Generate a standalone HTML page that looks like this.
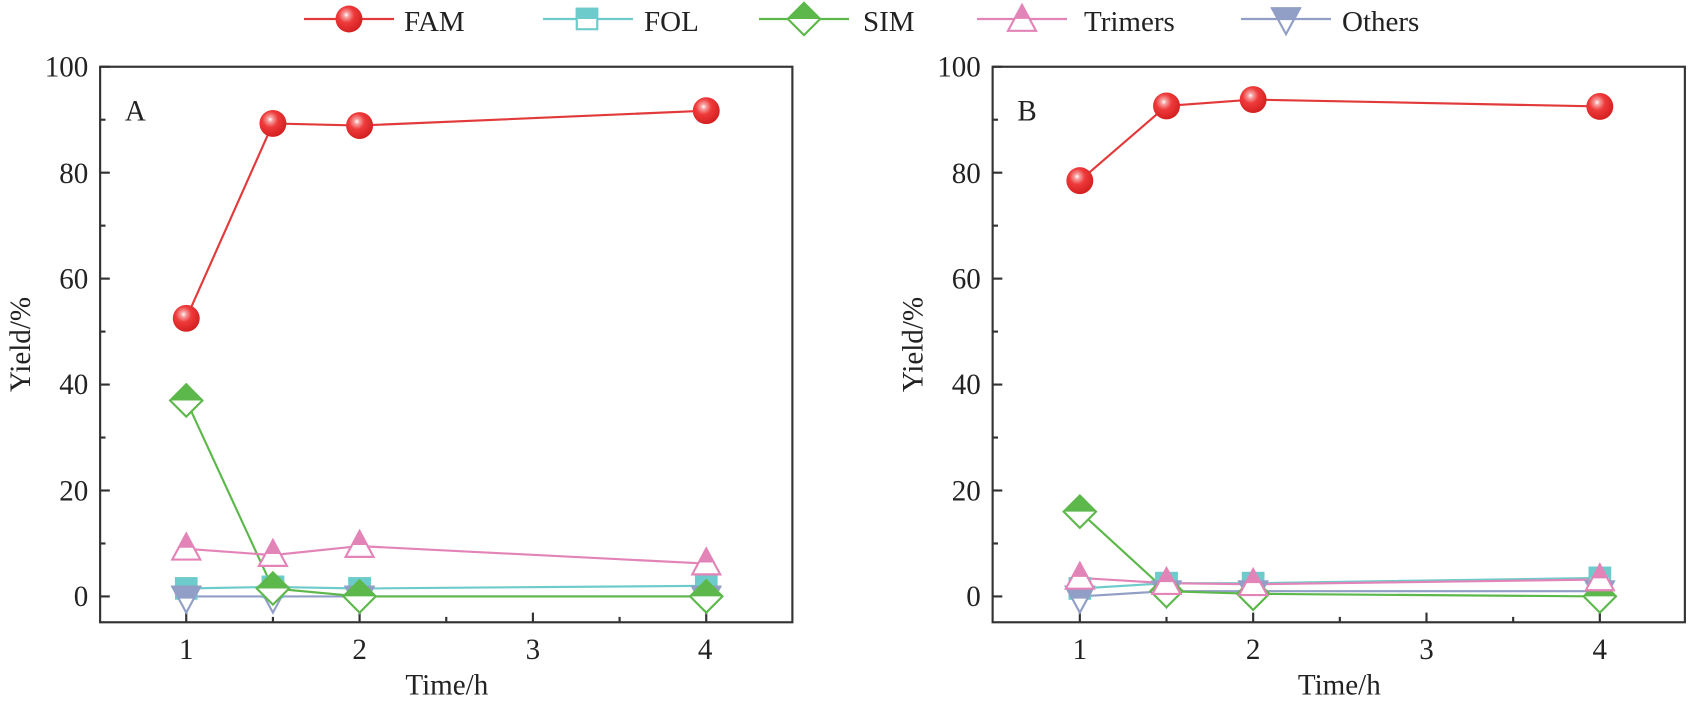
<!DOCTYPE html>
<html><head><meta charset="utf-8"><style>
body{margin:0;background:#fff}
svg{display:block;font-family:"Liberation Serif",serif}
</style></head><body>
<svg id="s" width="1688" height="705" viewBox="0 0 1688 705">
<defs>
<radialGradient id="rg" cx="0.4" cy="0.35" r="0.65">
<stop offset="0" stop-color="#fff"/><stop offset="0.15" stop-color="#f6a0a0"/><stop offset="0.45" stop-color="#ee3a3a"/><stop offset="1" stop-color="#d42020"/>
</radialGradient>
</defs>
<g font-size="29" fill="#222">
<text x="404" y="31">FAM</text><text x="644" y="31">FOL</text><text x="863" y="31">SIM</text><text x="1084" y="31">Trimers</text><text x="1342" y="31">Others</text>
</g>
<g id="leg"></g>
<g transform="scale(1.0766)">
<g font-size="27" fill="#222">
<text x="116" y="112">A</text><text x="945" y="112">B</text>
<g text-anchor="end">
<text x="82" y="71">100</text><text x="82" y="170">80</text><text x="82" y="268">60</text><text x="82" y="366">40</text><text x="82" y="465">20</text><text x="82" y="563">0</text>
<text x="911" y="71">100</text><text x="911" y="170">80</text><text x="911" y="268">60</text><text x="911" y="366">40</text><text x="911" y="465">20</text><text x="911" y="563">0</text>
</g>
<g text-anchor="middle">
<text x="173" y="612">1</text><text x="334" y="612">2</text><text x="495" y="612">3</text><text x="655" y="612">4</text>
<text x="1003" y="612">1</text><text x="1164" y="612">2</text><text x="1325" y="612">3</text><text x="1486" y="612">4</text>
<text x="415" y="645">Time/h</text><text x="1244" y="645">Time/h</text>
<text transform="translate(28,320) rotate(-90)">Yield/%</text>
<text transform="translate(857,320) rotate(-90)">Yield/%</text>
</g>
</g>
<g id="plot"></g>
</g>
</svg>
<script>
const NS="http://www.w3.org/2000/svg";
let P=document.getElementById('plot');
function el(t,a){const e=document.createElementNS(NS,t);for(const k in a)e.setAttribute(k,a[k]);P.appendChild(e);return e;}
const C={FOL:'#6ecbcb',SIM:'#5cb84a',TRI:'#e384b8',OTH:'#919fc6',FAM:'#e23a3a'};
function marker(type,x,y){
 if(type=='FAM'){el('circle',{cx:x,cy:y,r:12.5,fill:'url(#rg)'});return;}
 const c=C[type];
 if(type=='FOL'){el('rect',{x:x-9.5,y:y-9.5,width:19,height:19,fill:'#fff',stroke:c,'stroke-width':2});el('rect',{x:x-10.5,y:y-10.5,width:21,height:10.5,fill:c});}
 if(type=='SIM'){el('polygon',{points:`${x},${y-15} ${x+15},${y} ${x},${y+15} ${x-15},${y}`,fill:'#fff',stroke:c,'stroke-width':2});el('polygon',{points:`${x},${y-16} ${x+16},${y} ${x-16},${y}`,fill:c});}
 if(type=='TRI'){el('polygon',{points:`${x},${y-14} ${x+13},${y+10} ${x-13},${y+10}`,fill:'#fff',stroke:c,'stroke-width':2});el('polygon',{points:`${x},${y-15} ${x+7.5},${y-1} ${x-7.5},${y-1}`,fill:c});}
 if(type=='OTH'){el('polygon',{points:`${x-13},${y-9} ${x+13},${y-9} ${x},${y+15}`,fill:'#fff',stroke:c,'stroke-width':2});el('polygon',{points:`${x-14},${y-10} ${x+14},${y-10} ${x+7.6},${y+2} ${x-7.6},${y+2}`,fill:c});}
}
function panel(x0,xs,data){
 const L=x0,R=x0+643,T=62,B=578;
 el('rect',{x:L,y:T,width:R-L,height:B-T,fill:'none',stroke:'#333','stroke-width':2});
 for(let v=0;v<=100;v+=10){const y=554-v*4.92;el('line',{x1:L,y1:y,x2:L+(v%20==0?9:5),y2:y,stroke:'#333','stroke-width':2});}
 for(let i=0;i<=8;i++){const x=xs[0]+i*80.5;if(x>R-5)continue;el('line',{x1:x,y1:B,x2:x,y2:B-(i%2==0?9:5),stroke:'#333','stroke-width':2});}
 const px=[xs[0],xs[0]+80.5,xs[0]+161,xs[0]+483];
 const order=['FOL','OTH','SIM','TRI','FAM'];
 order.forEach(k=>{const ys=data[k].map(v=>554-v*4.92);
  el('polyline',{points:px.map((x,i)=>x+','+ys[i]).join(' '),fill:'none',stroke:C[k],'stroke-width':2});});
 order.forEach(k=>{data[k].forEach((v,i)=>marker(k,px[i],554-v*4.92));});
}
panel(93,[173],{FAM:[52.5,89.3,88.9,91.7],SIM:[37,1.5,0,0],TRI:[9,7.8,9.5,6.2],FOL:[1.5,1.8,1.5,2],OTH:[0,0,0,0]});
panel(922,[1003],{FAM:[78.5,92.6,93.8,92.5],SIM:[16,1,0.5,0],TRI:[3.5,2.5,2.3,3.2],FOL:[1.5,2.5,2.5,3.5],OTH:[0,1,1,1]});
// legend
const LG=document.getElementById('leg');
[['FAM',304,394,349,19],['FOL',543,633,587,19],['SIM',759,849,804,19],['TRI',977,1067,1022,20],['OTH',1241,1331,1286,18]].forEach(([t,a,b,m,y])=>{
 P=LG; el('line',{x1:a,y1:19,x2:b,y2:19,stroke:C[t],'stroke-width':2.2});
 const g=document.createElementNS(NS,'g');g.setAttribute('transform',`translate(${m},${y}) scale(1.0766)`);LG.appendChild(g);
 P=g; marker(t,0,0);
});
</script>
</body></html>
